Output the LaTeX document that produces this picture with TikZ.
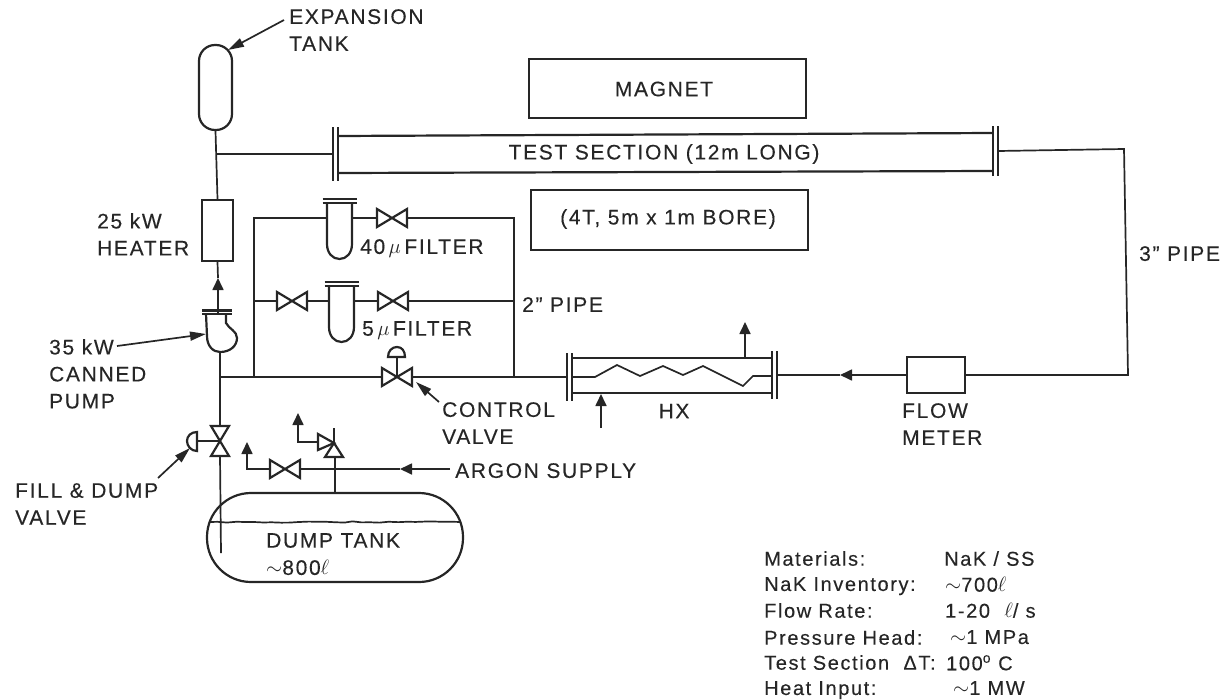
\documentclass[tikz,border=0pt]{standalone}
\usepackage{fontspec}
\setmainfont{Liberation Sans}[LetterSpace=8,FakeBold=0.25]
\usepackage{xcolor}
\usetikzlibrary{arrows.meta,decorations.pathmorphing}
\definecolor{ink}{RGB}{38,38,38}

\tikzset{
  pipe/.style = {draw=ink, line width=1.7pt},
  vessel/.style = {draw=ink, line width=2.2pt},
  flow/.style = {pipe, -{Triangle[length=12pt,width=11pt]}},
  leader/.style = {pipe, -{Triangle[length=16pt,width=9pt]}},
  equip/.style = {vessel, rectangle, inner sep=0pt},
  tag/.style = {text=ink, font=\fontsize{21}{27}\selectfont, anchor=north west, align=left, inner sep=0pt},
  ctag/.style = {text=ink, font=\fontsize{21}{27}\selectfont, inner sep=0pt},
  row/.style = {text=ink, font=\fontsize{20}{24}\selectfont, anchor=north west, inner sep=0pt},
  valve/.pic = {
    \draw[vessel] (-15,-9) -- (15,9) -- (15,-9) -- (-15,9) -- cycle;
    \coordinate (-w) at (-15,0);
    \coordinate (-e) at (15,0);
    \coordinate (-c) at (0,0);
  },
  filter/.pic = {
    \draw[vessel] (-17,-19) -- (17,-19);
    \draw[vessel] (-17,-15) -- (17,-15);
    \draw[vessel] (-12.5,-15) -- (-12.5,26) .. controls (-12.5,35) and (-7,41) .. (0,41)
      .. controls (7,41) and (12.5,35) .. (12.5,26) -- (12.5,-15);
    \coordinate (-w) at (-12.5,0);
    \coordinate (-e) at (12.5,0);
  },
  flange/.pic = {
    \draw[vessel] (-2.5,-#1) -- (-2.5,#1);
    \draw[vessel] (2.5,-#1) -- (2.5,#1);
    \coordinate (-w) at (-2.5,0);
    \coordinate (-e) at (2.5,0);
  },
}

\begin{document}
\begin{tikzpicture}[x=1pt,y=-1pt]
  \useasboundingbox (0,0) rectangle (1225,699);

  % equipment
  \node[equip, minimum width=33pt, minimum height=85pt, rounded corners=16pt] (exptank) at (215.5,87.5) {};
  \node[equip, minimum width=31pt, minimum height=61pt] (heater) at (217.5,230.5) {};
  \node[equip, minimum width=277pt, minimum height=59pt] (magnettop) at (667.5,88.5) {};
  \node[equip, minimum width=277pt, minimum height=60pt] (magnetbot) at (669.5,220) {};
  \node[equip, minimum width=58pt, minimum height=36pt] (flowmeter) at (936,375) {};
  \node[equip, minimum width=256pt, minimum height=89pt, rounded corners=44pt] (dumptank) at (335,537.5) {};

  \pic (tsl) at (335.5,154) {flange=27};
  \pic (tsr) at (995.5,151) {flange=25};
  \pic (hxl) at (569.5,377) {flange=24};
  \pic (hxr) at (774.5,375) {flange=24};

  \pic (f40) at (339.5,218) {filter};
  \pic (f5) at (341.5,301) {filter};
  \pic (v40) at (392,218) {valve};
  \pic (v5l) at (292,301) {valve};
  \pic (v5r) at (393,301) {valve};
  \pic (vctl) at (397,377) {valve};
  \pic (varg) at (285,469) {valve};
  \pic[rotate=90] (vfill) at (220,441) {valve};

  % junctions and free ends
  \coordinate (jts) at (216,154);
  \coordinate (jmain) at (220,377);
  \coordinate (jby) at (254,377);
  \coordinate (jpass) at (514,377);
  \coordinate (pumptop) at (218,314);
  \coordinate (pumpbot) at (220,352);
  \coordinate (pumptip) at (218,278);
  \coordinate (corner1) at (1124,149);
  \coordinate (corner2) at (1128,375);
  \coordinate (hxtip) at (840,375);
  \coordinate (hxout) at (745,358);
  \coordinate (hxouttip) at (745,322);
  \coordinate (hxin) at (601,428);
  \coordinate (hxintip) at (601,394);
  \coordinate (dipend) at (221,553);
  \coordinate (argstart) at (450,469);
  \coordinate (argtip) at (400,469);
  \coordinate (ventl) at (247,469);
  \coordinate (ventltip) at (247,442);
  \coordinate (rel) at (334,443);
  \coordinate (reljoin) at (335,457);
  \coordinate (relw) at (318,442);
  \coordinate (ventr) at (298,442);
  \coordinate (ventrtip) at (298,413);
  \coordinate (act) at (197,441);

  % main loop
  \draw[pipe] (exptank.south) -- (heater.north);
  \draw[pipe] (jts) -- (tsl-w);
  \draw[flow] (pumptop) -- (pumptip);
  \draw[pipe] (pumptip) -- (heater.south);
  \draw[pipe] (pumpbot) -- (jmain) -- (vfill-e);
  \draw[pipe] (vfill-w) -- (dipend);
  \draw[pipe] (jmain) -- (vctl-w);
  \draw[pipe] (vctl-e) -- (hxl-w);
  \draw[pipe] (tsr-e) -- (corner1) -- (corner2) -- (flowmeter.east);
  \draw[flow] (flowmeter.west) -- (hxtip);
  \draw[pipe] (hxtip) -- (hxr-e);

  % test section walls
  \draw[vessel] (338,136) -- (993,133);
  \draw[vessel] (338,173) -- (993,171);

  % filter bypass
  \draw[pipe] (jby) |- (f40-w);
  \draw[pipe] (f40-e) -- (v40-w);
  \draw[pipe] (v40-e) -| (jpass);
  \draw[pipe] (jby |- v5l-c) -- (v5l-w);
  \draw[pipe] (v5l-e) -- (f5-w);
  \draw[pipe] (f5-e) -- (v5r-w);
  \draw[pipe] (v5r-e) -- (jpass |- v5r-c);

  % canned pump
  \draw[vessel, line width=3pt] (202,310) -- (232,310);
  \draw[vessel] (202,314) -- (232,314);
  \draw[vessel] (206,314) -- (207,336) .. controls (207,346) and (213,352) .. (pumpbot)
    .. controls (230,352) and (237,346) .. (237,338)
    .. controls (237,331) and (229,329) .. (226,323) -- (226,314);

  % control valve bonnet
  \draw[pipe] (vctl-c) -- ++(0,-20) coordinate (ctlstem);
  \draw[vessel] (388,357) .. controls (388,351) and (392,347) .. (397,347)
    .. controls (402,347) and (405,351) .. (405,357) -- cycle;

  % heat exchanger
  \draw[vessel] (572,358) -- (772,358);
  \draw[vessel] (572,393) -- (772,393);
  \draw[pipe] (572,377) -- (595,377) -- (617,365) -- (640,376) -- (663,366) -- (683,375)
    -- (703,366) -- (743,386) -- (753,376) -- (772,376);
  \draw[flow] (hxout) -- (hxouttip);
  \draw[flow] (hxin) -- (hxintip);

  % fill and dump valve actuator
  \draw[pipe] (vfill-c) -- (act);
  \draw[vessel] (197,432) .. controls (191,432) and (187,436) .. (187,441)
    .. controls (187,446) and (191,451) .. (197,451) -- cycle;

  % argon lines and relief valve
  \draw[flow] (argstart) -- (argtip);
  \draw[pipe] (argtip) -- (varg-e);
  \draw[flow] (varg-w) -- (ventl) -- (ventltip);
  \draw[vessel] (rel) -- (343,457) -- (325,457) -- cycle;
  \draw[vessel] (rel) -- (318,434) -- (318,450) -- cycle;
  \draw[pipe] (rel) -- ++(0,-15);
  \draw[pipe] (reljoin) -- (reljoin |- dumptank.north);
  \draw[flow] (relw) -- (ventr) -- (ventrtip);

  % liquid level
  \draw[pipe, decorate, decoration={random steps,segment length=9pt,amplitude=0.7pt}]
    (209,522) coordinate (lvll) -- (461,522) coordinate (lvlr);

  % labels with leaders
  \node[tag] (lblexp) at (289,9) {EXPANSION\\TANK};
  \coordinate (lblexpend) at (284,20);
  \coordinate (exptip) at (228,50);
  \draw[leader] (lblexpend) -- (exptip);
  \node[tag] (lblpump) at (49,339) {35 kW\\CANNED\\PUMP};
  \coordinate (lblpumpend) at (117,346);
  \coordinate (pumptag) at (206,334);
  \draw[leader] (lblpumpend) -- (pumptag);
  \node[tag] (lblctl) at (442,402) {CONTROL\\VALVE};
  \coordinate (lblctlend) at (439,402);
  \coordinate (ctltag) at (416,382);
  \draw[leader] (lblctlend) -- (ctltag);
  \node[tag] (lblfill) at (15,483) {FILL \& DUMP\\VALVE};
  \coordinate (lblfillend) at (158,478);
  \coordinate (filltag) at (190,448);
  \draw[leader] (lblfillend) -- (filltag);

  % other labels
  \node[ctag] (lblmag) at (664,89) {MAGNET};
  \node[ctag] (lbltest) at (664,154) {TEST SECTION (12m LONG)};
  \node[ctag] (lblbore) at (668,219) {(4T, 5m x 1m BORE)};
  \node[tag] (lblheat) at (97,213) {25 kW\\HEATER};
  \node[tag] (lblf40) at (360,239) {40$\,\mu\,$FILTER};
  \node[tag] (lblf5) at (362,321) {5$\,\mu\,$FILTER};
  \node[tag] (lbl2in) at (522,297) {2'' PIPE};
  \node[tag] (lbl3in) at (1139,246) {3'' PIPE};
  \node[ctag] (lblhx) at (674,411) {HX};
  \node[tag] (lblflow) at (902,403) {FLOW\\METER};
  \node[tag] (lblarg) at (455,463) {ARGON SUPPLY};
  \node[tag] (lbldump) at (266,533) {DUMP TANK};
  \node[tag] (lblvol) at (266,560) {$\sim$800$\ell$};

  % data table
  \node[row] (rowa) at (764,551) {Materials:};
  \node[row] (vala) at (944,551) {NaK / SS};
  \node[row] (rowb) at (764,577) {NaK Inventory:};
  \node[row] (valb) at (945,577) {$\sim$700$\ell$};
  \node[row] (rowc) at (764,603) {Flow Rate:};
  \node[row] (valc) at (945,603) {1-20\ \ $\ell$/ s};
  \node[row] (rowd) at (764,630) {Pressure Head:};
  \node[row] (vald) at (950,630) {$\sim$1 MPa};
  \node[row] (rowe) at (764,655) {Test Section\ \ ΔT:};
  \node[row] (vale) at (946,655) {100$^{\mathrm{o}}$ C};
  \node[row] (rowf) at (764,681) {Heat Input:};
  \node[row] (valf) at (953,681) {$\sim$1 MW};
\end{tikzpicture}
\end{document}
